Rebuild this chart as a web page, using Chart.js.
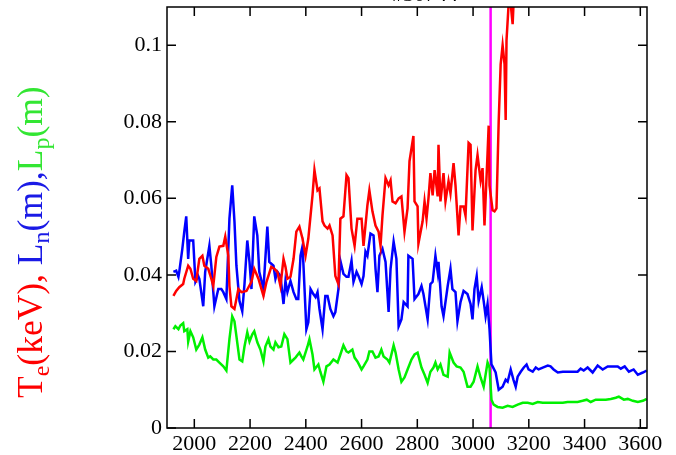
<!DOCTYPE html>
<html>
<head>
<meta charset="utf-8">
<script src="https://cdn.jsdelivr.net/npm/chart.js@4"></script>
<style>
html,body{margin:0;padding:0;background:#fff;}
#wrap{width:676px;height:455px;}
</style>
</head>
<body>
<div id="wrap"><canvas id="c" width="676" height="455"></canvas></div>
<script>
// ---- data ----
const xTicks = [2000, 2200, 2400, 2600, 2800, 3000, 3200, 3400, 3600];
const yTicks = [0, 0.02, 0.04, 0.06, 0.08, 0.1];
const transitionX = 3063;

const teX = [1925,1935,1946,1960,1964,1978,1986,1996,2007,2018,2029,2036,2050,2061,2068,2079,2090,2104,2111,2122,2126,2133,2144,2158,2169,2187,2205,2215,2230,2248,2259,2276,2287,2298,2309,2320,2327,2334,2345,2356,2366,2377,2388,2399,2409,2424,2431,2442,2449,2460,2467,2478,2485,2496,2506,2517,2524,2535,2546,2553,2564,2575,2585,2600,2607,2621,2628,2639,2650,2661,2668,2675,2686,2697,2704,2711,2722,2733,2743,2754,2765,2772,2786,2790,2801,2804,2819,2826,2833,2840,2847,2855,2862,2873,2876,2883,2894,2901,2912,2919,2930,2937,2948,2955,2966,2973,2984,2991,2998,3009,3016,3027,3034,3041,3052,3056,3059,3070,3077,3084,3092,3099,3106,3113,3117,3120,3127,3135,3142,3145,3160,3180];
const teY = [0.0345,0.0358,0.0368,0.0376,0.0390,0.0424,0.0416,0.0390,0.0384,0.0442,0.0450,0.0424,0.0416,0.0390,0.0371,0.0447,0.0474,0.0476,0.0500,0.0450,0.0371,0.0318,0.0311,0.0363,0.0355,0.0358,0.0382,0.0416,0.0390,0.0345,0.0382,0.0421,0.0416,0.0408,0.0371,0.0442,0.0421,0.0390,0.0395,0.0442,0.0513,0.0526,0.0495,0.0450,0.0495,0.0608,0.0674,0.0621,0.0626,0.0540,0.0529,0.0521,0.0529,0.0503,0.0397,0.0376,0.0547,0.0553,0.0661,0.0653,0.0521,0.0476,0.0547,0.0547,0.0476,0.0582,0.0621,0.0566,0.0529,0.0513,0.0476,0.0555,0.0653,0.0634,0.0647,0.0592,0.0587,0.0600,0.0605,0.0513,0.0574,0.0697,0.0763,0.0592,0.0579,0.0482,0.0540,0.0592,0.0547,0.0600,0.0666,0.0608,0.0674,0.0605,0.0740,0.0592,0.0666,0.0592,0.0645,0.0613,0.0692,0.0634,0.0503,0.0579,0.0579,0.0555,0.0745,0.0740,0.0516,0.0674,0.0713,0.0647,0.0679,0.0529,0.0718,0.0790,0.0634,0.0569,0.0566,0.0574,0.0803,0.0950,0.1000,0.0950,0.0805,0.1013,0.1100,0.1108,0.1055,0.1105,0.125,0.140];

const lnX = [1925,1935,1943,1946,1957,1964,1971,1978,1982,1989,1996,2004,2014,2018,2032,2039,2054,2061,2072,2086,2097,2104,2115,2126,2136,2144,2151,2162,2172,2180,2190,2198,2205,2215,2226,2233,2248,2262,2269,2284,2291,2298,2309,2320,2327,2334,2345,2356,2366,2373,2381,2388,2391,2402,2409,2417,2427,2435,2442,2449,2460,2470,2478,2488,2499,2506,2517,2524,2535,2546,2553,2564,2571,2582,2589,2600,2607,2614,2621,2632,2643,2650,2657,2664,2675,2686,2697,2704,2715,2725,2733,2743,2751,2765,2768,2783,2790,2804,2815,2822,2837,2847,2855,2865,2873,2876,2887,2894,2909,2919,2926,2937,2944,2955,2966,2980,2991,2998,3005,3013,3020,3031,3038,3045,3052,3059,3066,3070,3081,3092,3106,3117,3124,3135,3145,3153,3160,3171,3182,3192,3199,3214,3225,3235,3250,3268,3278,3289,3304,3322,3339,3357,3375,3386,3397,3411,3429,3447,3465,3483,3501,3519,3530,3544,3559,3576,3591,3609,3623];
const lnY = [0.0408,0.0411,0.0395,0.0408,0.0468,0.0513,0.0553,0.0442,0.0490,0.0490,0.0490,0.0382,0.0397,0.0390,0.0318,0.0408,0.0476,0.0424,0.0318,0.0363,0.0363,0.0355,0.0337,0.0547,0.0634,0.0540,0.0424,0.0332,0.0305,0.0376,0.0490,0.0434,0.0363,0.0553,0.0503,0.0408,0.0363,0.0526,0.0434,0.0424,0.0390,0.0408,0.0397,0.0324,0.0384,0.0355,0.0384,0.0355,0.0337,0.0337,0.0450,0.0474,0.0434,0.0258,0.0276,0.0363,0.0350,0.0342,0.0355,0.0311,0.0258,0.0345,0.0345,0.0311,0.0292,0.0303,0.0363,0.0437,0.0403,0.0395,0.0395,0.0437,0.0382,0.0408,0.0397,0.0376,0.0397,0.0461,0.0450,0.0508,0.0503,0.0416,0.0355,0.0450,0.0468,0.0434,0.0303,0.0416,0.0487,0.0442,0.0266,0.0284,0.0329,0.0318,0.0450,0.0442,0.0337,0.0350,0.0371,0.0350,0.0284,0.0376,0.0382,0.0450,0.0408,0.0434,0.0318,0.0292,0.0371,0.0416,0.0363,0.0355,0.0279,0.0329,0.0358,0.0350,0.0324,0.0284,0.0363,0.0397,0.0332,0.0368,0.0332,0.0292,0.0324,0.0258,0.0166,0.0161,0.0145,0.0100,0.0108,0.0126,0.0121,0.0153,0.0126,0.0108,0.0134,0.0147,0.0158,0.0166,0.0153,0.0147,0.0158,0.0153,0.0158,0.0163,0.0161,0.0153,0.0145,0.0147,0.0147,0.0147,0.0147,0.0155,0.0150,0.0158,0.0145,0.0163,0.0153,0.0161,0.0161,0.0161,0.0155,0.0161,0.0147,0.0153,0.0139,0.0145,0.0150];

const lpX = [1925,1932,1943,1950,1960,1964,1975,1978,1986,1996,2007,2018,2029,2039,2050,2057,2068,2079,2090,2104,2115,2126,2136,2144,2151,2162,2172,2180,2190,2198,2208,2215,2226,2237,2248,2255,2266,2273,2284,2291,2302,2312,2323,2334,2345,2356,2363,2377,2384,2391,2406,2413,2424,2431,2445,2452,2463,2474,2485,2499,2514,2524,2535,2546,2553,2567,2575,2585,2600,2607,2621,2628,2639,2650,2661,2671,2679,2693,2700,2715,2722,2733,2743,2754,2765,2779,2790,2801,2815,2826,2837,2847,2858,2865,2873,2883,2894,2909,2916,2930,2941,2955,2966,2980,2991,3002,3016,3027,3038,3052,3059,3066,3074,3088,3106,3124,3142,3160,3178,3196,3214,3232,3250,3268,3286,3304,3322,3339,3357,3375,3393,3408,3422,3440,3458,3476,3494,3512,3523,3541,3555,3573,3591,3609,3623];
const lpY = [0.0258,0.0266,0.0258,0.0268,0.0274,0.0253,0.0258,0.0226,0.0253,0.0237,0.0205,0.0218,0.0237,0.0205,0.0184,0.0187,0.0179,0.0179,0.0171,0.0161,0.0150,0.0232,0.0292,0.0279,0.0240,0.0179,0.0174,0.0213,0.0250,0.0226,0.0245,0.0253,0.0224,0.0205,0.0174,0.0213,0.0232,0.0213,0.0205,0.0224,0.0211,0.0213,0.0245,0.0232,0.0171,0.0179,0.0184,0.0197,0.0187,0.0179,0.0213,0.0232,0.0192,0.0153,0.0166,0.0147,0.0121,0.0161,0.0166,0.0179,0.0171,0.0192,0.0216,0.0200,0.0197,0.0205,0.0184,0.0174,0.0153,0.0161,0.0179,0.0200,0.0200,0.0184,0.0187,0.0205,0.0187,0.0179,0.0171,0.0216,0.0197,0.0153,0.0121,0.0132,0.0153,0.0179,0.0192,0.0197,0.0158,0.0139,0.0118,0.0147,0.0158,0.0171,0.0153,0.0166,0.0139,0.0134,0.0197,0.0171,0.0161,0.0158,0.0147,0.0108,0.0108,0.0121,0.0161,0.0132,0.0108,0.0171,0.0158,0.0074,0.0061,0.0055,0.0053,0.0058,0.0055,0.0061,0.0066,0.0066,0.0063,0.0068,0.0066,0.0066,0.0066,0.0066,0.0066,0.0068,0.0068,0.0068,0.0071,0.0074,0.0068,0.0074,0.0074,0.0074,0.0076,0.0079,0.0082,0.0074,0.0076,0.0071,0.0068,0.0071,0.0076];

const xMin = 1902, xMax = 3624, yMin = 0, yMax = 0.11;

// ---- helpers ----
const zip = (xs, ys) => xs.map((x, i) => ({x: x, y: ys[i]}));
const SERIF = '"Liberation Serif", "Times New Roman", Times, serif';

const framePlugin = {
  id: 'frame',
  afterDatasetsDraw(chart) {
    const ctx = chart.ctx, a = chart.chartArea;
    const xs = chart.scales.x, ys = chart.scales.y;
    const tl = 9;
    ctx.save();
    ctx.strokeStyle = '#000';
    ctx.lineWidth = 1.5;
    ctx.strokeRect(a.left, a.top, a.right - a.left, a.bottom - a.top);
    ctx.beginPath();
    xTicks.forEach(v => {
      const px = xs.getPixelForValue(v);
      ctx.moveTo(px, a.bottom); ctx.lineTo(px, a.bottom - tl);
      ctx.moveTo(px, a.top); ctx.lineTo(px, a.top + tl);
    });
    yTicks.forEach(v => {
      const py = ys.getPixelForValue(v);
      ctx.moveTo(a.left, py); ctx.lineTo(a.left + tl, py);
      ctx.moveTo(a.right, py); ctx.lineTo(a.right - tl, py);
    });
    ctx.stroke();
    ctx.restore();
  },
  afterDraw(chart) {
    const ctx = chart.ctx;
    ctx.save();
    // partially visible title at very top
    ctx.fillStyle = '#000';
    ctx.font = '22px ' + SERIF;
    ctx.textAlign = 'center';
    ctx.textBaseline = 'alphabetic';
    ctx.fillText('#30744', 425, 1);
    // multicolour rotated y-axis label
    const segs = [
      {t: 'T', c: '#ff0000'}, {t: 'e', c: '#ff0000', sub: true}, {t: '(keV), ', c: '#ff0000'},
      {t: 'L', c: '#1a1ae6'}, {t: 'n', c: '#1a1ae6', sub: true}, {t: '(m),', c: '#1a1ae6'},
      {t: 'L', c: '#33e633'}, {t: 'p', c: '#33e633', sub: true}, {t: '(m)', c: '#33e633'}
    ];
    const big = '35.5px ' + SERIF, small = '24px ' + SERIF;
    ctx.translate(42, 398);
    ctx.rotate(-Math.PI / 2);
    ctx.textAlign = 'left';
    let x = 0;
    segs.forEach(s => {
      ctx.font = s.sub ? small : big;
      ctx.fillStyle = s.c;
      ctx.fillText(s.t, x, s.sub ? 7 : 0);
      x += ctx.measureText(s.t).width;
    });
    ctx.restore();
  }
};

const lineDs = (label, data, color, w) => ({
  label: label, data: data, borderColor: color, backgroundColor: color,
  borderWidth: w, pointRadius: 0, tension: 0, fill: false
});

new Chart(document.getElementById('c'), {
  type: 'line',
  data: {
    datasets: [
      lineDs('Te', zip(teX, teY), '#ff0000', 2.5),
      lineDs('Ln', zip(lnX, lnY), '#0000ff', 2.5),
      lineDs('Lp', zip(lpX, lpY), '#00f000', 2.5),
      lineDs('transition', [{x: transitionX, y: yMin}, {x: transitionX, y: yMax}], '#ff00ff', 2.5)
    ]
  },
  options: {
    responsive: false,
    animation: false,
    layout: {padding: {left: 0, top: 7, right: 29, bottom: 0}},
    plugins: {legend: {display: false}, tooltip: {enabled: false}, title: {display: false}},
    scales: {
      x: {
        type: 'linear', position: 'bottom', min: xMin, max: xMax,
        grid: {display: false, drawTicks: false}, border: {display: false},
        afterBuildTicks: s => { s.ticks = xTicks.map(v => ({value: v})); },
        afterFit: s => { s.height = 27; s.paddingLeft = 0; s.paddingRight = 0; },
        ticks: {color: '#000', font: {family: SERIF, size: 22}, padding: 3, maxRotation: 0, autoSkip: false,
          callback: v => String(v)}
      },
      y: {
        type: 'linear', min: yMin, max: yMax,
        grid: {display: false, drawTicks: false}, border: {display: false},
        afterBuildTicks: s => { s.ticks = yTicks.map(v => ({value: v})); },
        afterFit: s => { s.width = 167; s.paddingTop = 0; s.paddingBottom = 0; },
        ticks: {color: '#000', font: {family: SERIF, size: 22}, padding: 5, autoSkip: false,
          callback: v => String(+(+v).toFixed(2))}
      }
    }
  },
  plugins: [framePlugin]
});
</script>
</body>
</html>
